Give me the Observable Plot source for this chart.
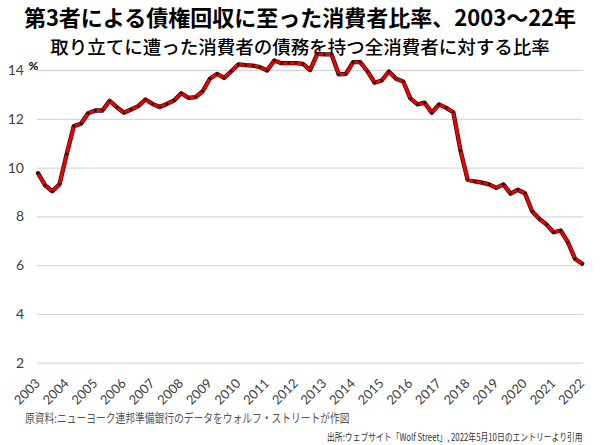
<!DOCTYPE html>
<html><head><meta charset="utf-8">
<script src="https://cdn.jsdelivr.net/npm/d3@7"></script>
<script src="https://cdn.jsdelivr.net/npm/@observablehq/plot@0.6"></script>
<style>
html,body{margin:0;padding:0;background:#fff;}
body{position:relative;width:600px;height:445px;overflow:hidden;font-family:"Noto Sans CJK JP","Noto Sans",sans-serif;}
#title{position:absolute;left:0;top:4.5px;width:600px;text-align:center;font-size:22px;font-weight:700;line-height:22px;height:22px;color:#000;white-space:nowrap;}
#subtitle{position:absolute;left:0;top:36.5px;width:600px;text-align:center;font-size:18.5px;font-weight:500;line-height:18.5px;height:18.5px;color:#000;white-space:nowrap;}
#chart{position:absolute;left:0;top:54px;}
#src{position:absolute;left:25px;top:411px;font-size:12.5px;line-height:14px;color:#555;white-space:nowrap;transform:scaleX(0.78);transform-origin:left center;}
#cite{position:absolute;right:17px;top:431px;font-size:10px;line-height:11px;color:#333;white-space:nowrap;transform:scaleX(0.78);transform-origin:right center;}
</style></head><body>
<div id="title">第3者による債権回収に至った消費者比率、2003～22年</div>
<div id="subtitle">取り立てに遭った消費者の債務を持つ全消費者に対する比率</div>
<div id="chart"></div>
<div id="src">原資料:ニューヨーク連邦準備銀行のデータをウォルフ・ストリートが作図</div>
<div id="cite">出所:ウェブサイト「Wolf Street」, 2022年5月10日のエントリーより引用</div>
<script>
// Quarterly share (%) of consumers with debt in third-party collections, 2003Q1 – 2022Q1
const startYear = 2003;
const values = [
  9.79, 9.29, 9.05, 9.33,
  10.57, 11.72, 11.82, 12.25,
  12.36, 12.36, 12.76, 12.50,
  12.27, 12.40, 12.54, 12.81,
  12.63, 12.50, 12.63, 12.77,
  13.07, 12.88, 12.91, 13.15,
  13.66, 13.86, 13.70, 13.97,
  14.25, 14.22, 14.20, 14.14,
  14.00, 14.41, 14.30, 14.30,
  14.30, 14.27, 14.02, 14.68,
  14.66, 14.66, 13.84, 13.86,
  14.34, 14.34, 13.97, 13.50,
  13.59, 13.96, 13.66, 13.55,
  12.86, 12.61, 12.68, 12.27,
  12.61, 12.47, 12.29, 10.72,
  9.52, 9.45, 9.40, 9.33,
  9.19, 9.33, 8.95, 9.11,
  8.97, 8.23, 7.92, 7.69,
  7.37, 7.44, 6.96, 6.28,
  6.08
];
const yearLabels = ["2003","2004","2005","2006","2007","2008","2009","2010","2011","2012",
                    "2013","2014","2015","2016","2017","2018","2019","2020","2021","2022"];
const yTicks = [2, 4, 6, 8, 10, 12, 14];
const unitLabel = ["%"];

const data = values.map((v, i) => ({t: startYear + i / 4, v}));

const chart = Plot.plot({
  width: 600,
  height: 353,
  marginLeft: 37.5,
  marginRight: 18.3,
  marginTop: 16,
  marginBottom: 44.3,
  x: {domain: [2003, 2022], axis: null},
  y: {domain: [2, 14], axis: null},
  style: {fontFamily: "Lato, 'Open Sans', sans-serif", background: "transparent", overflow: "visible"},
  marks: [
    Plot.ruleY(yTicks, {stroke: "#d9d9d9", strokeWidth: 1.3, insetRight: -1.5, insetLeft: -0.5}),
    Plot.text(yTicks, {x: 2003, y: d => d, text: d => String(d), textAnchor: "end", dx: -14, fontSize: 14, fill: "#404040"}),
    Plot.text(yearLabels, {x: d => +d, y: 2, text: d => d, rotate: -45, textAnchor: "end", dx: 0, dy: 18, fontSize: 13, fill: "#404040"}),
    Plot.line(data, {x: "t", y: "v", stroke: "#2a0000", strokeWidth: 4.3, strokeLinejoin: "round"}),
    Plot.line(data, {x: "t", y: "v", stroke: "#f00000", strokeWidth: 3, strokeLinejoin: "round"}),
    Plot.dot(data, {x: "t", y: "v", r: 1.3, fill: "#111", stroke: null}),
    Plot.text(unitLabel, {frameAnchor: "top-left", text: d => d, dx: -9.5, dy: -9, fontSize: 12, fontWeight: "bold", fill: "#000"})
  ]
});
document.getElementById("chart").appendChild(chart);
</script>
</body></html>
